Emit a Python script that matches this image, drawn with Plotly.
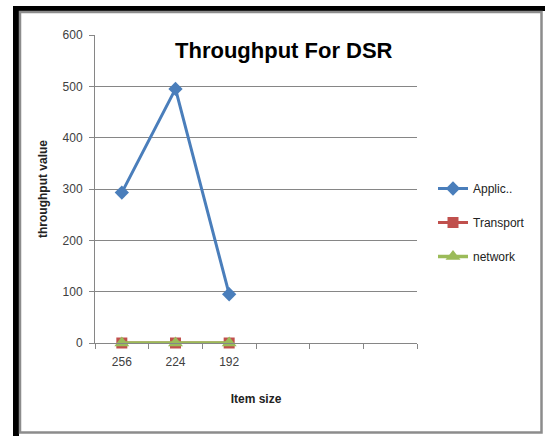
import plotly.graph_objects as go

# Data
item_sizes = ["256", "224", "192", "", " ", "  "]
applic = [293, 495, 95]
transport = [0, 0, 0]
network = [0, 0, 0]
y_ticks = [0, 100, 200, 300, 400, 500, 600]

W, H = 545, 436
L, R, T, B = 95, 128, 35, 93
PW, PH = W - L - R, H - T - B

FONT = "Liberation Sans, Arial"


def px(x):
    return (x - L) / PW


def py(y):
    return (H - B - y) / PH


fig = go.Figure()
fig.add_trace(go.Scatter(
    x=item_sizes[:len(applic)], y=applic, name="Applic..", mode="lines+markers",
    line=dict(color="#4A7EBB", width=3),
    marker=dict(symbol="diamond", size=11, color="#4A7EBB"),
    legendgroup="a", cliponaxis=False))
fig.add_trace(go.Scatter(
    x=item_sizes[:len(transport)], y=transport, name="Transport", mode="lines+markers",
    line=dict(color="#C0504D", width=3),
    marker=dict(symbol="square", size=11, color="#C0504D"),
    legendgroup="b", cliponaxis=False))
fig.add_trace(go.Scatter(
    x=item_sizes[:len(network)], y=network, name="network", mode="lines+markers",
    line=dict(color="#9BBB59", width=3.5),
    marker=dict(symbol="triangle-up", size=13, color="#9BBB59"),
    legendgroup="c", cliponaxis=False))

shapes = [
    # outer black frame (left and top)
    dict(type="rect", xref="paper", yref="paper", x0=px(13), x1=px(19), y0=py(436), y1=py(6),
         fillcolor="black", line_width=0, layer="above"),
    dict(type="rect", xref="paper", yref="paper", x0=px(13), x1=px(545), y0=py(11), y1=py(6),
         fillcolor="black", line_width=0, layer="above"),
    # inner gray frame
    dict(type="rect", xref="paper", yref="paper", x0=px(20), x1=px(541.5), y0=py(432.5), y1=py(12),
         fillcolor="rgba(0,0,0,0)", line=dict(color="#8C8C8C", width=2.5), layer="above"),
    # title box background over the right end of the top gridline
    dict(type="rect", xref="paper", yref="paper", x0=px(400), x1=px(418), y0=py(37), y1=py(33),
         fillcolor="white", line_width=0, layer="above"),
]

fig.update_layout(
    width=W, height=H,
    margin=dict(l=L, r=R, t=T, b=B),
    paper_bgcolor="white", plot_bgcolor="white",
    font=dict(family=FONT, color="#404040", size=12),
    showlegend=True,
    legend=dict(
        x=px(433), y=py(174), xanchor="left", yanchor="top",
        traceorder="grouped", tracegroupgap=15, itemwidth=30,
        font=dict(family=FONT, size=12, color="#222222"),
        bgcolor="rgba(0,0,0,0)",
    ),
    shapes=shapes,
    annotations=[
        dict(text="<b>Throughput For DSR</b>", xref="paper", yref="paper",
             x=px(284), y=py(50), showarrow=False, xanchor="center", yanchor="middle",
             font=dict(family=FONT, size=22, color="black")),
    ],
)

fig.update_xaxes(
    type="category", categoryorder="array", categoryarray=item_sizes,
    range=[-0.5, len(item_sizes) - 0.5],
    showline=True, linecolor="#868686", linewidth=1,
    ticks="outside", ticklen=5, tickcolor="#868686",
    tickson="boundaries", ticklabelstandoff=8,
    showgrid=False, zeroline=False,
    tickfont=dict(size=12, color="#404040"),
    title=dict(text="<b>Item size</b>", standoff=26,
               font=dict(family=FONT, size=12, color="#222222")),
)
fig.update_yaxes(
    range=[0, 600], tickvals=y_ticks,
    showline=True, linecolor="#868686", linewidth=1,
    ticks="outside", ticklen=5, tickcolor="#868686",
    ticklabelstandoff=4,
    showgrid=True, gridcolor="#868686", gridwidth=1,
    zeroline=False,
    tickfont=dict(size=12, color="#404040"),
    title=dict(text="<b>throughput value</b>", standoff=12,
               font=dict(family=FONT, size=12, color="#222222")),
)

fig.write_html("out.html")
